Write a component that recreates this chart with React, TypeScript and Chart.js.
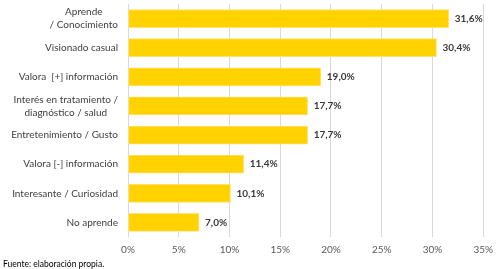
import React, { useEffect, useRef } from "react";
import { Chart, registerables } from "chart.js";

Chart.register(...registerables);

const categories: (string | string[])[] = [
  ["Aprende", "/ Conocimiento"],
  "Visionado casual",
  "Valora  [+] información",
  ["Interés en tratamiento /", "diagnóstico / salud"],
  "Entretenimiento / Gusto",
  "Valora [-] información",
  "Interesante / Curiosidad",
  "No aprende",
];
const values: number[] = [31.6, 30.4, 19.0, 17.7, 17.7, 11.4, 10.1, 7.0];
const valueLabels: string[] = ["31,6%", "30,4%", "19,0%", "17,7%", "17,7%", "11,4%", "10,1%", "7,0%"];
const xMax = 35;
const xStep = 5;
const footerText = "Fuente: elaboración propia.";

const FONT = "Lato, 'Open Sans', sans-serif";

const labelPlugin = {
  id: "customLabels",
  afterDraw(chart: any) {
    const ctx = chart.ctx;
    const y = chart.scales.y;
    const x = chart.scales.x;
    const area = chart.chartArea;
    ctx.save();
    ctx.font = `10px ${FONT}`;
    ctx.fillStyle = "#404040";
    ctx.textBaseline = "middle";
    ctx.textAlign = "center";
    const right = area.left - 10;
    categories.forEach((cat, i) => {
      const lines = Array.isArray(cat) ? cat : [cat];
      const w = Math.max(...lines.map((l) => ctx.measureText(l).width));
      const cx = right - w / 2;
      const cy = y.getPixelForValue(i);
      const lh = 13;
      lines.forEach((l, j) => {
        ctx.fillText(l, cx, cy + (j - (lines.length - 1) / 2) * lh);
      });
    });
    ctx.font = `bold 10px ${FONT}`;
    ctx.fillStyle = "#3a3a3a";
    ctx.textAlign = "left";
    values.forEach((v, i) => {
      ctx.fillText(valueLabels[i], x.getPixelForValue(v) + 6, y.getPixelForValue(i));
    });
    ctx.font = `8.5px ${FONT}`;
    ctx.fillStyle = "#000000";
    ctx.textBaseline = "middle";
    ctx.fillText(footerText, 3, 264);
    ctx.restore();
  },
};

export default function App() {
  const ref = useRef<HTMLCanvasElement>(null);
  useEffect(() => {
    document.body.style.margin = "0";
    const chart = new Chart(ref.current!, {
      type: "bar",
      data: {
        labels: categories as any,
        datasets: [
          {
            data: values,
            backgroundColor: "#FFD200",
            borderColor: "#FFE36E",
            borderWidth: 1,
            borderSkipped: false,
            barThickness: 18,
          },
        ],
      },
      options: {
        indexAxis: "y",
        animation: false,
        responsive: false,
        maintainAspectRatio: false,
        layout: { padding: { left: 0, right: 15, top: 4, bottom: 6 } },
        plugins: { legend: { display: false }, tooltip: { enabled: false } },
        scales: {
          x: {
            min: 0,
            max: xMax,
            ticks: {
              stepSize: xStep,
              callback: (v: any) => v + "%",
              color: "#595959",
              font: { family: FONT, size: 10 },
              padding: 7,
            },
            grid: { color: "#D9D9D9", drawTicks: false, lineWidth: 1 },
            border: { display: false },
          },
          y: {
            ticks: { display: false },
            grid: { display: false },
            border: { display: false },
            afterFit: (s: any) => {
              s.width = 128;
            },
          },
        },
      },
      plugins: [labelPlugin],
    });
    return () => chart.destroy();
  }, []);
  return (
    <div style={{ width: 500, height: 269, position: "relative" }}>
      <canvas ref={ref} width={500} height={269} style={{ width: 500, height: 269 }} />
    </div>
  );
}
